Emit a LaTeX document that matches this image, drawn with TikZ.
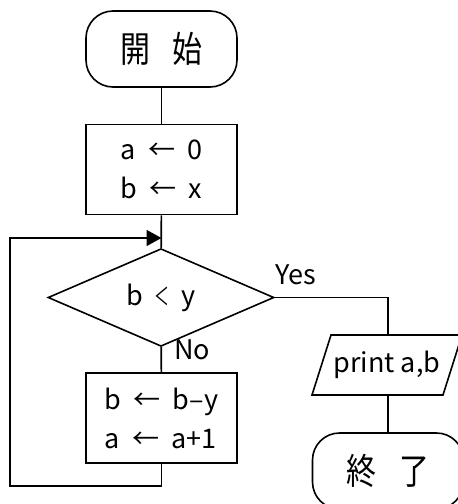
\documentclass[tikz,border=0pt]{standalone}
\usepackage{fontspec}
\usepackage{graphicx}
\setmainfont{Noto Sans CJK JP}
\usetikzlibrary{shapes.geometric,arrows.meta}

% half-width gap between words, as in a monospaced Japanese font
\newcommand{\gp}{\hspace{0.45em}}
% narrow "less than" sign
\newcommand{\lessmark}{\scalebox{0.55}[0.9]{＜}}
% tall kanji for the terminal labels
\newcommand{\tallkanji}[2]{{\fontsize{30}{36}\selectfont
  \scalebox{1}[1.2]{#1}\hspace{0.75em}\scalebox{1}[1.2]{#2}}}

\tikzset{
  every node/.style={font=\fontsize{27}{39}\selectfont, inner sep=0pt},
  flow/.style={line width=1.6pt},
  terminal/.style={draw, flow, rectangle, rounded corners=27pt,
    minimum width=151pt, minimum height=76pt},
  procbox/.style={draw, flow, rectangle, minimum width=151pt,
    minimum height=90pt, align=left},
  decision/.style={draw, flow, diamond, minimum width=226pt,
    minimum height=75pt},
  iotext/.style={rectangle, minimum width=131pt, minimum height=60pt},
  tag/.style={anchor=base west},
  tip/.style={-{Triangle[length=15pt,width=16pt]}}
}

\begin{document}
\begin{tikzpicture}[x=1pt, y=-1pt]
  \useasboundingbox (0,0) rectangle (458,504);

  \node[terminal] (start) at (161.5,49) {\tallkanji{開}{始}};
  \node[procbox]  (init)  at (161.5,169.5) {a\gp←\gp0\\b\gp←\gp x};
  \node[decision] (test)  at (161,297.5) {b\gp\lessmark\gp y};
  \node[procbox]  (step2) at (161.5,418) {b\gp←\gp b–y\\a\gp←\gp a+1};
  \node[iotext]   (out)   at (387,365) {print a,b};
  \node[terminal] (stop)  at (388,471) {\tallkanji{終}{了}};

  % input/output parallelogram around the print text
  \draw[flow] (out.center) ++(-75,30) -- ++(131,0) -- ++(19,-60)
    -- ++(-131,0) -- cycle;

  \node[tag] (yes) at (275,284) {Yes};
  \node[tag] (no)  at (174,359) {No};

  \coordinate (merge)  at (161.5,238);
  \coordinate (corner) at (10,486);
  \coordinate (turn)   at (388,297.5);

  \draw[flow] (start) -- (init);
  \draw[flow] (init) -- (test);
  \draw[flow] (test) -- (step2);
  \draw[flow] (test.east) -- (turn) -- (turn |- out.north);
  \draw[flow] (turn |- out.south) -- (stop);
  \draw[flow, tip] (step2.south) -- (step2.south |- corner) -- (corner) |- (merge);
\end{tikzpicture}
\end{document}
